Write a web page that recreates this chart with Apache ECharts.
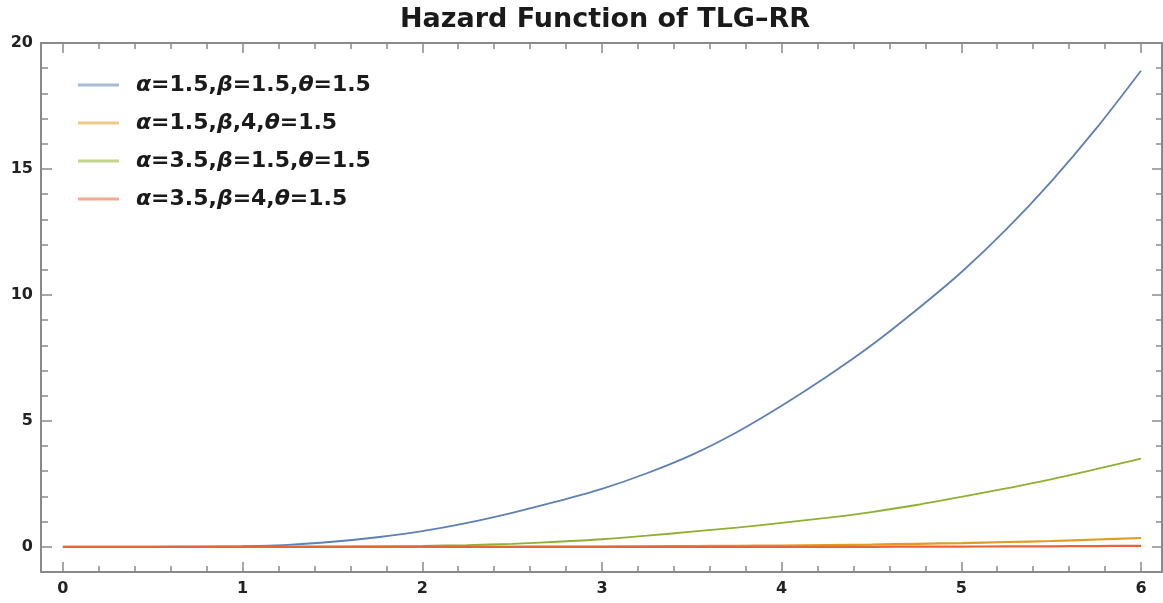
<!DOCTYPE html>
<html>
<head>
<meta charset="utf-8">
<script src="https://cdn.jsdelivr.net/npm/echarts@6/dist/echarts.min.js"></script>
<style>html,body{margin:0;padding:0;background:#fff;}#c{width:1163px;height:603px;}</style>
</head>
<body>
<div id="c"></div>
<script>
const titleText = 'Hazard Function of TLG\u2013RR';
const seriesNames = ['\u03b1=1.5,\u03b2=1.5,\u03b8=1.5', '\u03b1=1.5,\u03b2,4,\u03b8=1.5', '\u03b1=3.5,\u03b2=1.5,\u03b8=1.5', '\u03b1=3.5,\u03b2=4,\u03b8=1.5'];
const xs     = [0,0.25,0.5,0.75,1,1.25,1.5,1.75,2,2.25,2.5,2.75,3,3.25,3.5,3.75,4,4.25,4.5,4.75,5,5.25,5.5,5.75,6];
const blue   = [0,0,0,0.01,0.03,0.08,0.2,0.38,0.62,0.95,1.35,1.8,2.3,2.92,3.65,4.55,5.6,6.75,8.0,9.4,10.9,12.6,14.5,16.6,18.9];
const orange = [0,0,0,0,0,0,0,0,0,0,0,0.01,0.01,0.02,0.03,0.04,0.05,0.07,0.09,0.12,0.15,0.19,0.23,0.29,0.35];
const green  = [0,0,0,0,0,0,0.01,0.02,0.04,0.07,0.12,0.2,0.3,0.44,0.6,0.76,0.95,1.15,1.38,1.66,1.98,2.32,2.68,3.08,3.5];
const red    = [0,0,0,0,0,0,0,0,0,0,0,0,0,0,0,0,0,0,0,0.01,0.01,0.015,0.02,0.03,0.04];
const xMajor = [0,1,2,3,4,5,6];
const yMajor = [0,5,10,15,20];
const colors = ['#5E81B5','#E19C24','#8FB032','#EB6235'];

const xMinor = [];
for (let i = 1; i < 30; i++) { if (i % 5) xMinor.push(+(i*0.2).toFixed(1)); }
const yMinor = [];
for (let i = 1; i < 20; i++) { if (i % 5) yMinor.push(i); }

const frameColor = '#8a8a8a';
const fontFam = 'DejaVu Sans, Liberation Sans, Arial, sans-serif';
const labelStyle = {fontFamily:fontFam, fontWeight:'bold', fontSize:16, color:'#222'};

function xAx(pos, ticks, len, showLine, showLabel) {
  return {type:'value', min:-0.122, max:6.117, position:pos,
    axisLine:{show:showLine, onZero:false, lineStyle:{color:frameColor, width:2}},
    axisTick:{show:true, inside:true, length:len, customValues:ticks, lineStyle:{color:frameColor, width:1.5}},
    axisLabel:Object.assign({show:showLabel, customValues:ticks, margin:9}, labelStyle),
    splitLine:{show:false}};
}
function yAx(pos, ticks, len, showLine, showLabel) {
  return {type:'value', min:-1, max:20, position:pos,
    axisLine:{show:showLine, onZero:false, lineStyle:{color:frameColor, width:2}},
    axisTick:{show:true, inside:true, length:len, customValues:ticks, lineStyle:{color:frameColor, width:1.5}},
    axisLabel:Object.assign({show:showLabel, customValues:ticks, margin:8}, labelStyle),
    splitLine:{show:false}};
}

const allY = [blue, orange, green, red];
const chart = echarts.init(document.getElementById('c'));
chart.setOption({
  animation:false,
  backgroundColor:'#fff',
  title:{text:titleText, left:600, top:1, textAlign:'center',
    textStyle:{fontFamily:fontFam, fontWeight:'bold', fontSize:27, color:'#1a1a1a'}},
  grid:{left:41, right:1, top:43, bottom:31, containLabel:false},
  legend:{orient:'vertical', left:78, top:74, padding:0, itemWidth:41, itemHeight:3, itemGap:16, icon:'rect',
    itemStyle:{opacity:0.55},
    data:seriesNames,
    formatter:function(n){ return n.replace(/([\u03b1\u03b2\u03b8])/g, '{g|$1}'); },
    textStyle:{fontFamily:fontFam, fontWeight:'bold', fontSize:22, lineHeight:20, color:'#1a1a1a', padding:[0,0,0,12],
      rich:{g:{fontFamily:fontFam, fontStyle:'italic', fontWeight:'bold', fontSize:22, lineHeight:20, color:'#1a1a1a'}}}},
  xAxis:[
    xAx('bottom', xMajor, 10, true, true),
    xAx('bottom', xMinor, 6, false, false),
    xAx('top', xMajor, 10, true, false),
    xAx('top', xMinor, 6, false, false)
  ],
  yAxis:[
    yAx('left', yMajor, 11, true, true),
    yAx('left', yMinor, 7, false, false),
    yAx('right', yMajor, 10, true, false),
    yAx('right', yMinor, 6, false, false)
  ],
  series: allY.map((arr, i) => ({
    name:seriesNames[i], type:'line', xAxisIndex:0, yAxisIndex:0,
    data: xs.map((x, j) => [x, arr[j]]),
    smooth:0.3, showSymbol:false, symbol:'none',
    lineStyle:{color:colors[i], width:i === 0 || i === 2 ? 1.8 : 2.2},
    itemStyle:{color:colors[i]},
    z: 2 + i
  }))
});
</script>
</body>
</html>
